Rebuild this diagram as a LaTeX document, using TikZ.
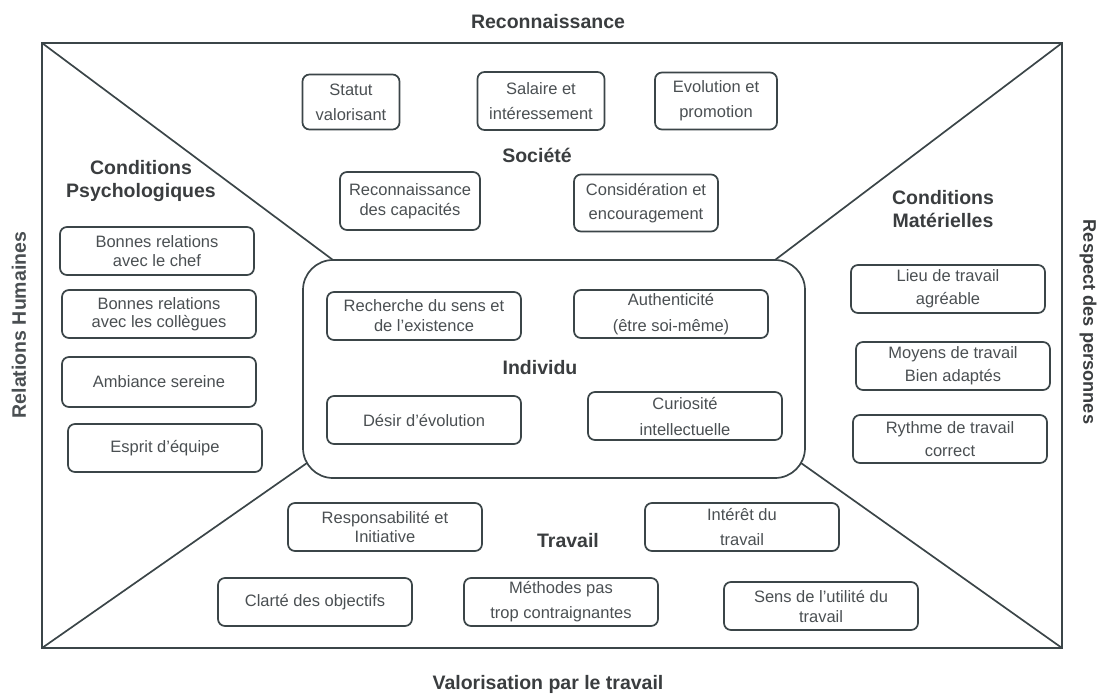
\documentclass[tikz,border=0pt]{standalone}
\usepackage{fontspec}
\setmainfont{Liberation Sans}
\definecolor{linec}{HTML}{3B4548}
\definecolor{textc}{HTML}{4A4F52}
\definecolor{headc}{HTML}{3A3D3F}
\begin{document}
\begin{tikzpicture}[x=1pt,y=-1pt,
  bx/.style={draw=linec, line width=1.7pt, rounded corners=7pt, align=center,
    font=\fontsize{16.5}{19}\selectfont, text=textc, inner sep=1pt,
    minimum width=194pt, minimum height=48pt},
  ls/.style={font=\fontsize{16.5}{#1}\selectfont},
  hd/.style={font=\fontsize{19.5}{23}\selectfont\bfseries, text=headc, align=center},
  side/.style={font=\fontsize{19.5}{23}\selectfont\bfseries, text=textc},
  ln/.style={draw=linec, line width=1.7pt}]
\useasboundingbox (0,0) rectangle (1098,694);
% outer frame
\coordinate (tl) at (42,43);
\coordinate (tr) at (1062,43);
\coordinate (br) at (1062,648);
\coordinate (bl) at (42,648);
\draw[ln] (tl) -- (tr) -- (br) -- (bl) -- cycle;
% central box
\node[draw=linec, line width=1.7pt, rounded corners=30pt, minimum width=502pt, minimum height=218pt] (ind) at (554,369) {};
\coordinate (itl) at (333,260);
\coordinate (itr) at (775,260);
\coordinate (ibl) at (307,463);
\coordinate (ibr) at (801,463);
\draw[ln] (tl) -- (itl);
\draw[ln] (tr) -- (itr);
\draw[ln] (bl) -- (ibl);
\draw[ln] (br) -- (ibr);
% titles
\node[hd] (t1) at (548,22) {Reconnaissance};
\node[hd] (t2) at (548,684) {Valorisation par le travail};
\node[side, rotate=90] (t3) at (19,325) {Relations Humaines};
\node[side, font=\fontsize{18.2}{22}\selectfont\bfseries, text=headc, rotate=-90] (t4) at (1088,322) {Respect des personnes};
% Reconnaissance / Societe
\node[bx, ls=25, minimum width=97pt, minimum height=55pt] (b1) at (351,102) {Statut\\valorisant};
\node[bx, ls=25, minimum width=127pt, minimum height=58pt] (b2) at (541,101) {Salaire et\\intéressement};
\node[bx, ls=25, minimum width=122pt, minimum height=57pt] (b3) at (716,101) {Evolution et\\promotion};
\node[hd] (soc) at (537,155) {Société};
\node[bx, ls=20, minimum width=140pt, minimum height=58pt] (b4) at (410,201) {Reconnaissance\\des capacités};
\node[bx, ls=24, minimum width=144pt, minimum height=57pt] (b5) at (646,203) {Considération et\\encouragement};
% left
\node[hd] (cp) at (141,181) {Conditions\\Psychologiques};
\node[bx, ls=18.5] (l1) at (157,251) {Bonnes relations\\avec le chef};
\node[bx, ls=18.5] (l2) at (159,314) {Bonnes relations\\avec les collègues};
\node[bx, minimum height=50pt] (l3) at (159,382) {Ambiance sereine};
\node[bx] (l4) at (165,448) {Esprit d’équipe};
% right
\node[hd] (cm) at (943,209) {Conditions\\Matérielles};
\node[bx, ls=23] (r1) at (948,289) {Lieu de travail\\agréable};
\node[bx, ls=23] (r2) at (953,366) {Moyens de travail\\Bien adaptés};
\node[bx, ls=23] (r3) at (950,439) {Rythme de travail\\correct};
% center
\node[bx, ls=20] (c1) at (424,316) {Recherche du sens et\\de l’existence};
\node[bx, ls=26] (c2) at (671,314) {Authenticité\\(être soi-même)};
\node[hd] (indl) at (540,368) {Individu};
\node[bx] (c3) at (424,420) {Désir d’évolution};
\node[bx, ls=26] (c4) at (685,416) {Curiosité\\intellectuelle};
% bottom
\node[bx] (w1) at (385,527) {Responsabilité et\\Initiative};
\node[hd] (trav) at (568,541) {Travail};
\node[bx, ls=25] (w2) at (742,527) {Intérêt du\\travail};
\node[bx] (w3) at (315,602) {Clarté des objectifs};
\node[bx, ls=25] (w4) at (561,602) {Méthodes pas\\trop contraignantes};
\node[bx, ls=20] (w5) at (821,606) {Sens de l’utilité du\\travail};
\end{tikzpicture}
\end{document}
